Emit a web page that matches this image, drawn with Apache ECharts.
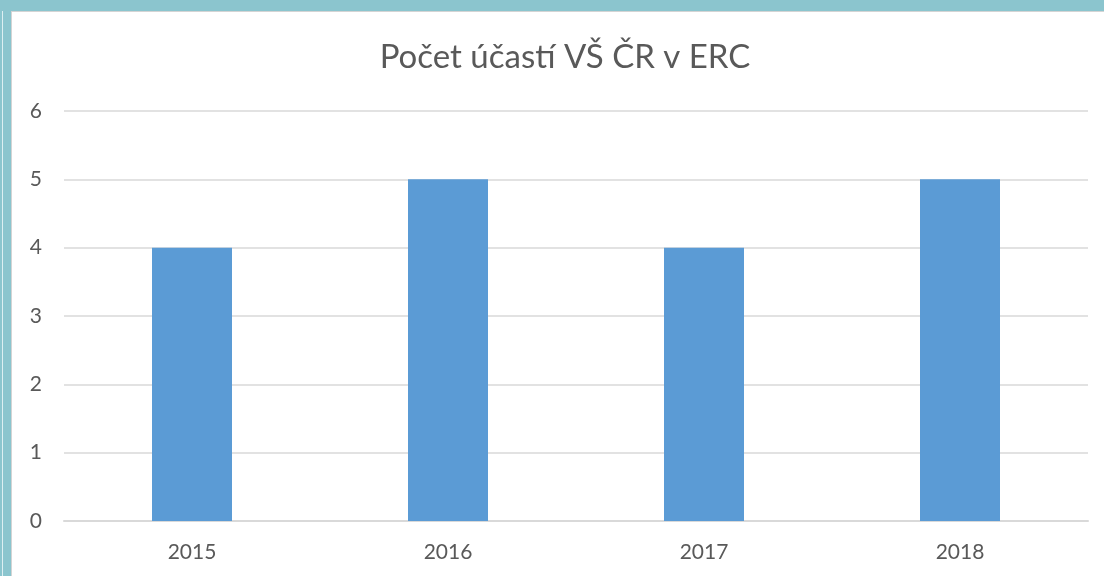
<!DOCTYPE html>
<html><head><meta charset="utf-8">
<script src="https://cdn.jsdelivr.net/npm/echarts@6/dist/echarts.min.js"></script>
<style>html,body{margin:0;padding:0;background:#fff;}#c{width:1104px;height:576px;}</style>
</head><body><div id="c"></div>
<script>
const titleText = 'Počet účastí VŠ ČR v ERC';
const categories = ['2015', '2016', '2017', '2018'];
const values = [4, 5, 4, 5];
const yTicks = [0, 1, 2, 3, 4, 5, 6];

const chart = echarts.init(document.getElementById('c'), null, {renderer: 'canvas'});
const FONT = 'Lato';
chart.setOption({
  animation: false,
  backgroundColor: '#ffffff',
  graphic: [
    {type: 'rect', shape: {x: 0, y: 0, width: 1104, height: 11}, style: {fill: '#8BC5CE'}, z: 0},
    {type: 'rect', shape: {x: 0, y: 0, width: 11, height: 576}, style: {fill: '#8BC5CE'}, z: 0},
    {type: 'rect', shape: {x: 2, y: 11, width: 1, height: 565}, style: {fill: '#DDEFF2'}, z: 0},
    {type: 'rect', shape: {x: 11, y: 11, width: 1093, height: 1}, style: {fill: '#D4D4D4'}, z: 0},
    {type: 'rect', shape: {x: 11, y: 11, width: 1, height: 565}, style: {fill: '#D4D4D4'}, z: 0}
  ],
  title: {
    text: titleText,
    left: 560,
    textAlign: 'center',
    top: 36,
    textStyle: {fontFamily: FONT, fontSize: 33, fontWeight: 'normal', color: '#595959'}
  },
  grid: {left: 64, right: 16, top: 111, bottom: 55, containLabel: false},
  xAxis: {
    type: 'category',
    data: categories,
    axisLine: {show: true, lineStyle: {color: '#D9D9D9', width: 2}},
    axisTick: {show: false},
    axisLabel: {fontFamily: FONT, fontSize: 21, color: '#595959', margin: 21}
  },
  yAxis: {
    type: 'value',
    min: yTicks[0],
    max: yTicks[yTicks.length - 1],
    interval: 1,
    axisLine: {show: false},
    axisTick: {show: false},
    splitLine: {lineStyle: {color: '#D9D9D9', width: 1.5}},
    axisLabel: {fontFamily: FONT, fontSize: 21, color: '#595959', margin: 22}
  },
  series: [{
    type: 'bar',
    data: values,
    barWidth: 80,
    itemStyle: {color: '#5B9BD5'}
  }]
});
</script></body></html>
